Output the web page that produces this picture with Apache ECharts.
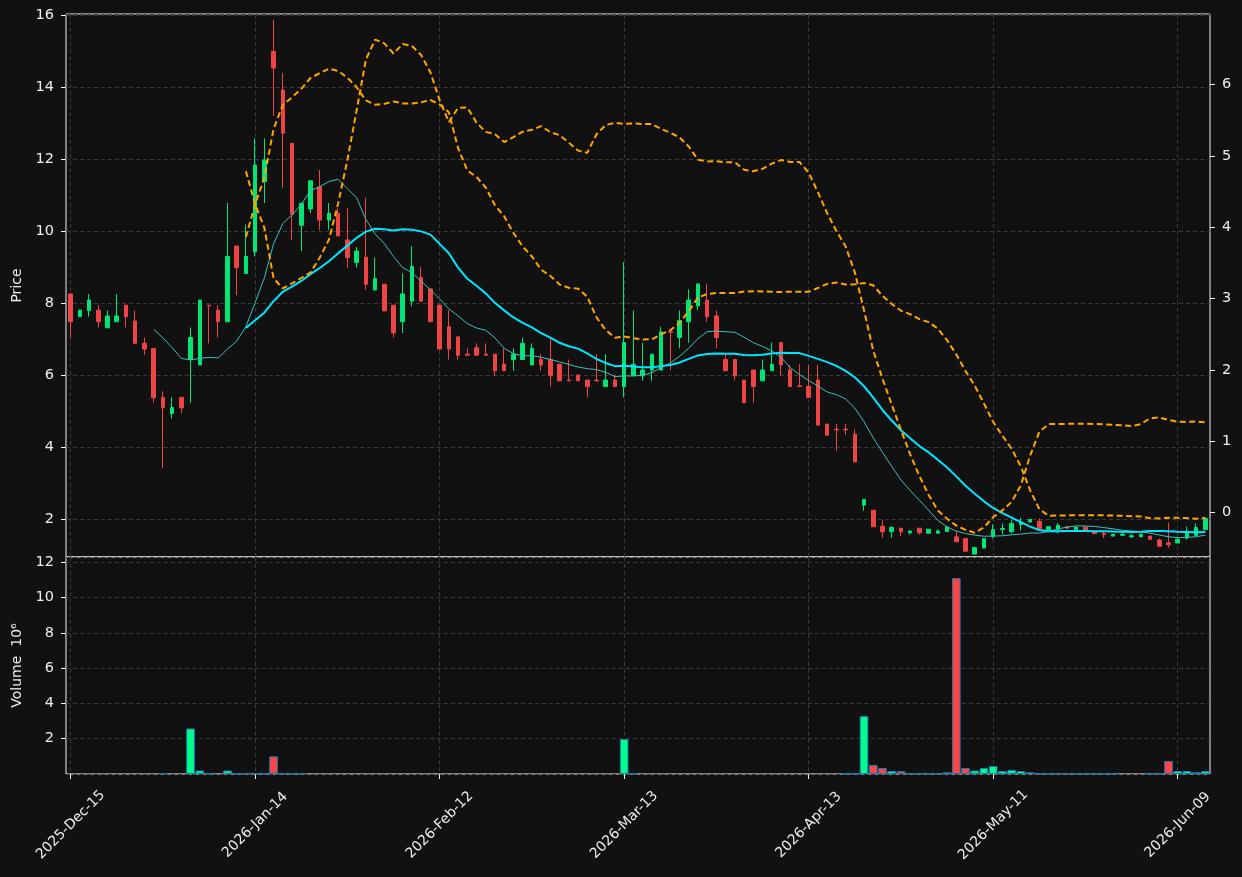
<!DOCTYPE html>
<html>
<head>
<meta charset="utf-8">
<script src="https://cdn.jsdelivr.net/npm/echarts@6/dist/echarts.min.js"></script>
<style>
html, body { margin: 0; padding: 0; background: #111111; }
#main { width: 1242px; height: 877px; }
</style>
</head>
<body>
<div id="main"></div>
<script>
// 交易日: 2025-12-15 起, 跳过周末和美股假日
const startDay = '2025-12-15';
const barCount = 124;
const holidays = ['2025-12-25', '2026-01-01', '2026-01-19', '2026-02-16', '2026-04-03', '2026-05-25'];
const monthNames = ['Jan','Feb','Mar','Apr','May','Jun','Jul','Aug','Sep','Oct','Nov','Dec'];

const opens = [8.26,7.63,7.80,7.81,7.32,7.49,7.95,7.51,6.89,6.75,
  5.39,4.94,5.39,6.44,6.29,7.95,7.81,7.49,9.59,8.83,
  9.43,11.38,14.99,13.92,12.44,10.17,10.62,11.23,10.31,10.50,
  9.76,9.13,9.28,8.37,8.53,7.95,7.49,8.06,8.71,8.40,
  7.95,7.35,7.07,6.59,6.77,6.59,6.59,6.31,6.44,6.44,
  6.29,6.44,6.44,6.31,5.87,6.01,5.87,5.87,5.69,5.87,
  5.69,5.99,5.99,6.15,6.15,7.22,7.05,7.49,7.93,8.09,
  7.65,6.44,6.44,5.87,6.15,5.85,6.13,6.91,6.15,5.71,
  5.70,5.87,4.65,4.51,4.51,4.37,2.40,2.26,1.81,1.67,
  1.76,1.63,1.76,1.62,1.62,1.67,1.52,1.47,1.04,1.21,
  1.52,1.72,1.66,1.86,1.93,1.95,1.72,1.73,1.80,1.72,
  1.79,1.67,1.61,1.54,1.56,1.52,1.52,1.54,1.43,1.35,
  1.35,1.49,1.56,1.72];
const closes = [7.49,7.81,8.09,7.49,7.65,7.65,7.63,6.89,6.73,5.38,
  5.10,5.11,5.10,7.05,8.09,7.93,7.49,9.30,8.99,9.30,
  11.84,11.98,14.53,12.72,10.47,10.78,11.40,10.31,10.50,9.87,
  9.27,9.45,8.53,8.69,7.79,7.18,8.26,9.02,8.06,7.49,
  6.73,6.73,6.56,6.56,6.56,6.56,6.13,6.13,6.59,6.89,
  6.75,6.29,5.99,5.85,5.85,5.85,5.69,5.85,5.87,5.69,
  6.91,6.31,6.15,6.59,7.21,7.20,7.52,8.09,8.54,7.63,
  7.05,6.13,5.99,5.24,5.69,6.15,6.31,6.29,5.69,5.69,
  5.39,4.62,4.34,4.49,4.49,3.60,2.56,1.80,1.66,1.78,
  1.66,1.68,1.63,1.73,1.68,1.79,1.38,1.12,1.22,1.47,
  1.72,1.75,1.89,1.93,2.00,1.75,1.80,1.84,1.76,1.79,
  1.70,1.61,1.58,1.59,1.59,1.55,1.59,1.45,1.26,1.30,
  1.45,1.67,1.78,2.03];
const lows = [7.05,7.63,7.63,7.33,7.32,7.49,7.33,6.89,6.57,5.25,
  3.43,4.80,4.94,5.24,6.29,6.89,7.05,7.49,8.23,8.83,
  9.30,10.78,13.20,11.21,9.76,9.45,10.50,10.04,10.04,9.87,
  8.99,8.99,8.37,8.37,7.79,7.05,7.18,7.92,8.06,7.49,
  6.73,6.44,6.44,6.56,6.56,6.56,5.99,6.13,6.13,6.44,
  6.29,6.13,5.69,5.85,5.85,5.85,5.39,5.85,5.69,5.69,
  5.39,5.99,5.85,5.85,6.15,6.15,6.75,6.91,7.81,7.49,
  6.75,6.13,5.87,5.24,5.24,5.85,6.13,5.99,5.69,5.69,
  5.39,4.62,4.34,3.91,4.34,3.60,2.24,1.80,1.49,1.49,
  1.54,1.58,1.58,1.62,1.62,1.67,1.38,1.12,1.04,1.21,
  1.47,1.58,1.61,1.70,1.93,1.75,1.72,1.61,1.76,1.66,
  1.70,1.61,1.49,1.54,1.56,1.49,1.52,1.45,1.24,1.22,
  1.35,1.44,1.56,1.72];
const highs = [8.26,7.81,8.26,7.95,7.80,8.26,7.95,7.80,7.05,6.75,
  5.56,5.39,5.39,7.33,8.09,7.95,7.95,10.78,9.59,10.19,
  12.58,12.58,15.87,14.39,12.44,10.78,11.40,11.70,10.78,10.64,
  10.64,9.57,10.93,9.27,8.53,7.95,8.83,9.59,9.00,8.40,
  7.95,7.81,7.07,6.75,6.89,6.89,6.59,6.75,6.75,7.05,
  6.89,6.59,7.05,6.31,6.44,6.01,5.87,6.59,6.59,6.01,
  9.14,7.80,6.91,6.59,7.35,7.22,7.80,8.39,8.54,8.54,
  7.80,6.59,6.44,5.87,6.15,6.44,6.91,6.91,6.29,6.31,
  6.29,6.29,4.65,4.65,4.65,4.50,2.56,2.26,1.98,1.81,
  1.76,1.70,1.76,1.73,1.73,1.81,1.67,1.47,1.22,1.47,
  1.87,1.89,1.98,2.05,2.00,2.03,1.80,1.90,1.80,1.81,
  1.79,1.67,1.65,1.59,1.63,1.59,1.59,1.54,1.47,1.92,
  1.52,1.80,1.89,2.03];
// 成交量, 单位 10^6
const volumes = [0,0,0,0,0,0,0,0,0,0,
  0.05,0,0,2.58,0.2,0.04,0,0.2,0.03,0.03,
  0.03,0.03,1.0,0.03,0.03,0.03,0,0,0,0,
  0,0,0,0,0,0,0,0,0,0,
  0,0,0,0,0,0,0,0,0,0,
  0,0,0,0,0,0,0,0,0,0,
  1.98,0.03,0,0,0,0,0,0,0,0,
  0,0,0,0,0,0,0,0,0,0,
  0,0,0,0,0.03,0.03,3.28,0.51,0.34,0.17,
  0.17,0.03,0.03,0.03,0.03,0.1,11.11,0.34,0.2,0.34,
  0.45,0.17,0.23,0.17,0.1,0.03,0.03,0.03,0.03,0.03,
  0.03,0.03,0.03,0.03,0,0,0,0.03,0.03,0.74,
  0.17,0.17,0.1,0.17];

const upColor = '#00e676';
const downColor = '#ef4444';
const volUp = '#00ff88';
const volDown = '#ff4444';
const textColor = '#eeeeee';
const spineColor = '#f2f2f2';
const gridColor = '#3a3a3a';
const fontFamily = 'DejaVu Sans';

function makeDates(start, count) {
  let d = new Date(start + 'T00:00:00Z');
  let out = [];
  while (out.length < count) {
    let iso = d.toISOString().slice(0, 10);
    let wd = d.getUTCDay();
    if (wd !== 0 && wd !== 6 && holidays.indexOf(iso) < 0) {
      out.push(d.getUTCFullYear() + '-' + monthNames[d.getUTCMonth()] + '-' + iso.slice(8, 10));
    }
    d.setUTCDate(d.getUTCDate() + 1);
  }
  return out;
}
const dates = makeDates(startDay, barCount);

function movingAvg(arr, n) {
  return arr.map((v, i) => {
    if (i < n - 1) return null;
    let s = 0;
    for (let k = i - n + 1; k <= i; k++) s += arr[k];
    return +(s / n).toFixed(4);
  });
}
function bollinger(arr, n, k, sign) {
  const ma = movingAvg(arr, n);
  return arr.map((v, i) => {
    if (i < n - 1) return null;
    let s = 0;
    for (let j = i - n + 1; j <= i; j++) s += (arr[j] - ma[i]) * (arr[j] - ma[i]);
    let sd = Math.sqrt(s / n);
    return +(ma[i] + sign * k * sd).toFixed(4);
  });
}

const ma10 = movingAvg(closes, 10);
const ma20 = movingAvg(closes, 20);
const bbUpper = bollinger(closes, 20, 2, 1);
const bbLower = bollinger(closes, 20, 2, -1);

const candleData = opens.map((o, i) => [o, closes[i], lows[i], highs[i]]);
// 0 成交量不画柱子
const volData = volumes.map((v, i) => ({
  value: v === 0 ? null : v,
  itemStyle: { color: closes[i] >= opens[i] ? volUp : volDown }
}));

const every20 = (idx) => idx % 20 === 0;

var myChart = echarts.init(document.getElementById('main'));
const option = {
  backgroundColor: '#111111',
  animation: false,
  textStyle: { fontFamily: fontFamily },
  grid: [
    { left: 66, top: 14, width: 1144, height: 543, show: true, borderColor: spineColor, borderWidth: 1, backgroundColor: '#111111' },
    { left: 66, top: 557, width: 1144, height: 217, show: true, borderColor: spineColor, borderWidth: 1, backgroundColor: '#111111' }
  ],
  xAxis: [
    {
      type: 'category', gridIndex: 0, data: dates, boundaryGap: true,
      axisLine: { show: false }, axisTick: { show: false }, axisLabel: { show: false },
      splitLine: { show: true, interval: every20, alignWithLabel: true, lineStyle: { color: gridColor, type: [4, 3] } }
    },
    {
      type: 'category', gridIndex: 1, data: dates, boundaryGap: true,
      axisLine: { show: false },
      axisTick: { show: true, interval: every20, alignWithLabel: true, length: 5, lineStyle: { color: spineColor } },
      axisLabel: { interval: every20, rotate: 45, color: textColor, fontSize: 14, fontFamily: fontFamily, margin: 51, align: 'center', verticalAlign: 'middle' },
      splitLine: { show: true, interval: every20, alignWithLabel: true, lineStyle: { color: gridColor, type: [4, 3] } }
    }
  ],
  yAxis: [
    {
      type: 'value', gridIndex: 0, position: 'left', min: 0.96, max: 16.03, splitNumber: 8,
      name: 'Price', nameLocation: 'middle', nameGap: 30,
      nameTextStyle: { color: textColor, fontSize: 14, fontFamily: fontFamily },
      axisLine: { show: false },
      axisTick: { show: true, length: 5, lineStyle: { color: spineColor } },
      axisLabel: { color: textColor, fontSize: 14.5, margin: 12, showMinLabel: false, showMaxLabel: false },
      splitLine: { show: true, lineStyle: { color: gridColor, type: [4, 3] } }
    },
    {
      type: 'value', gridIndex: 0, position: 'right', min: -0.625, max: 6.99, splitNumber: 8,
      axisLine: { show: false },
      axisTick: { show: true, length: 5, lineStyle: { color: spineColor } },
      axisLabel: { color: textColor, fontSize: 14.5, margin: 12, showMinLabel: false, showMaxLabel: false },
      splitLine: { show: false }
    },
    {
      type: 'value', gridIndex: 1, position: 'left', min: 0, max: 12.3, interval: 2,
      name: 'Volume  10⁶', nameLocation: 'middle', nameGap: 34,
      nameTextStyle: { color: textColor, fontSize: 14, fontFamily: fontFamily },
      axisLine: { show: false },
      axisTick: { show: true, length: 5, lineStyle: { color: spineColor } },
      axisLabel: { color: textColor, fontSize: 14.5, margin: 12, showMinLabel: false, showMaxLabel: false },
      splitLine: { show: true, lineStyle: { color: gridColor, type: [4, 3] } }
    }
  ],
  series: [
    {
      name: 'OHLC', type: 'candlestick', xAxisIndex: 0, yAxisIndex: 0,
      data: candleData, barWidth: 4,
      itemStyle: { color: upColor, color0: downColor, borderColor: upColor, borderColor0: downColor, borderWidth: 1 }
    },
    {
      name: 'MA10', type: 'line', xAxisIndex: 0, yAxisIndex: 0, data: ma10,
      symbol: 'none', lineStyle: { color: '#3fbfbf', width: 1 }
    },
    {
      name: 'MA20', type: 'line', xAxisIndex: 0, yAxisIndex: 0, data: ma20,
      symbol: 'none', lineStyle: { color: '#00e5ff', width: 2 }
    },
    {
      name: 'BB upper', type: 'line', xAxisIndex: 0, yAxisIndex: 0, data: bbUpper,
      symbol: 'none', lineStyle: { color: '#ffa500', width: 2, type: [6, 3.5] }
    },
    {
      name: 'BB lower', type: 'line', xAxisIndex: 0, yAxisIndex: 1, data: bbLower,
      symbol: 'none', lineStyle: { color: '#ffa500', width: 2, type: [6, 3.5] }
    },
    {
      name: 'Volume', type: 'bar', xAxisIndex: 1, yAxisIndex: 2, data: volData,
      barWidth: '94%',
      itemStyle: { borderColor: '#1f77b4', borderWidth: 1 }
    }
  ]
};
myChart.setOption(option);
</script>
</body>
</html>
